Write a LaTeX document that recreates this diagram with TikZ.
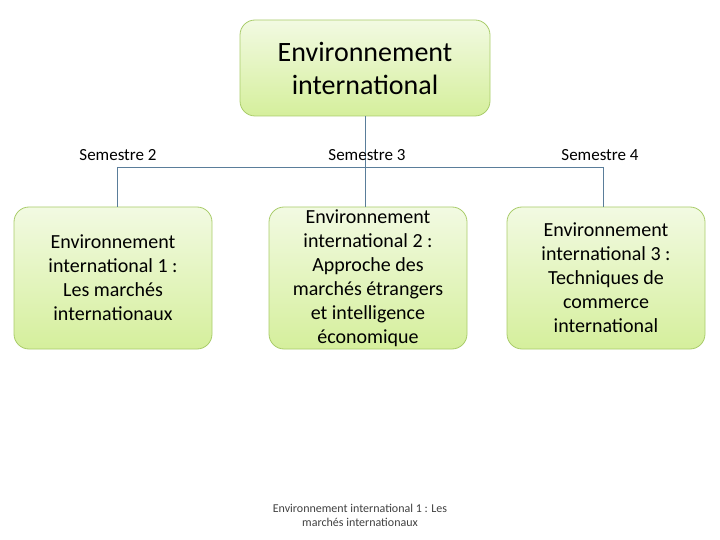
\documentclass[tikz,border=0pt]{standalone}
\usepackage{fontspec}
\setmainfont{Carlito}
\begin{document}
\begin{tikzpicture}[x=1pt,y=-1pt,
  gbox/.style={draw=bordc, line width=0.8pt, rounded corners=15pt,
    top color=boxtop, bottom color=boxbot, align=center, inner sep=0pt},
  conn/.style={draw=linec, line width=0.9pt},
  sem/.style={font=\fontsize{17}{20}\selectfont, text=black}]
\definecolor{boxtop}{HTML}{F2FAE2}
\definecolor{boxbot}{HTML}{D5EF9C}
\definecolor{linec}{HTML}{5A7D9A}
\definecolor{bordc}{HTML}{A9CC6A}
\useasboundingbox (0,0) rectangle (720,540);
\node[gbox, minimum width=250pt, minimum height=96pt, font=\fontsize{28}{33}\selectfont] (top) at (365,68) {Environnement\\international};
\node[gbox, minimum width=198pt, minimum height=142pt, font=\fontsize{20}{24}\selectfont] (b1) at (113,278) {Environnement\\international 1 :\\Les marchés\\internationaux};
\node[gbox, minimum width=198pt, minimum height=142pt, font=\fontsize{20}{24}\selectfont] (b2) at (368,278) {Environnement\\international 2 :\\Approche des\\marchés étrangers\\et intelligence\\économique};
\node[gbox, minimum width=198pt, minimum height=142pt, font=\fontsize{20}{24}\selectfont] (b3) at (606,278) {Environnement\\international 3 :\\Techniques de\\commerce\\international};
\coordinate (hL) at (117,167);
\coordinate (hM) at (365,167);
\coordinate (hR) at (603,167);
\draw[conn] (top.south) -- (hM);
\draw[conn] (hL) -- (hR);
\draw[conn] (hL) -- (hL |- b1.north);
\draw[conn] (hM) -- (hM |- b2.north);
\draw[conn] (hR) -- (hR |- b3.north);
\node[sem] (s2) at (118,155) {Semestre 2};
\node[sem] (s3) at (367,155) {Semestre 3};
\node[sem] (s4) at (600,155) {Semestre 4};
\node[align=center, text=black!75, font=\fontsize{12}{14}\selectfont] (bt) at (360,515) {Environnement international 1 : Les\\marchés internationaux};
\end{tikzpicture}
\end{document}
